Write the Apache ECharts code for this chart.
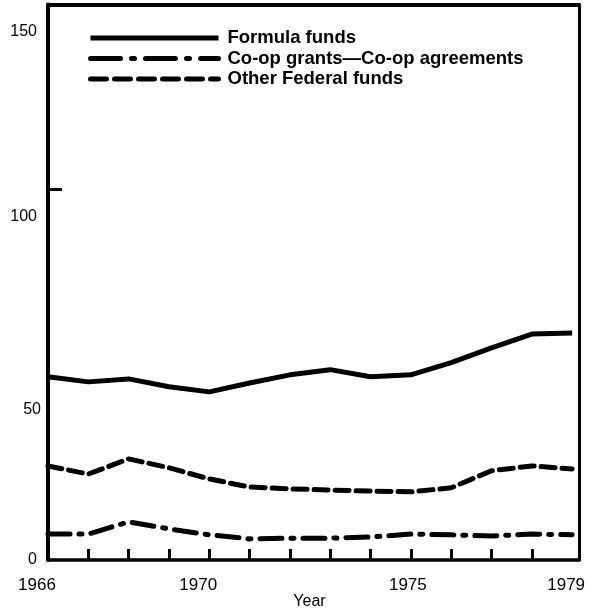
<!DOCTYPE html>
<html>
<head>
<meta charset="utf-8">
<script src="https://cdn.jsdelivr.net/npm/echarts@6/dist/echarts.min.js"></script>
<style>
  html, body { margin: 0; padding: 0; background: #fff; }
  #chart { width: 592px; height: 611px; }
</style>
</head>
<body>
<div id="chart"></div>
<script>
const years = [1966, 1967, 1968, 1969, 1970, 1971, 1972, 1973, 1974, 1975, 1976, 1977, 1978, 1979];
const formulaFunds = [49.5, 48.1, 48.9, 46.8, 45.4, 47.8, 50.0, 51.4, 49.5, 50.0, 53.3, 57.3, 61.0, 61.3];
const coopGrants = [7.0, 7.0, 10.3, 8.4, 6.8, 5.7, 5.9, 5.9, 6.2, 7.0, 6.8, 6.5, 7.0, 6.8];
const otherFederal = [25.4, 23.2, 27.3, 24.9, 21.9, 19.7, 19.2, 18.9, 18.6, 18.4, 19.5, 24.1, 25.4, 24.6];
const xTickLabels = [1966, 1970, 1975, 1979];
const yTickLabels = [0, 50, 100, 150];
const seriesNames = ['Formula funds', 'Co-op grants\u2014Co-op agreements', 'Other Federal funds'];

const FONT = 'Liberation Sans, Arial, Helvetica, sans-serif';
const pairs = arr => years.map((y, i) => [y, arr[i]]);

const chart = echarts.init(document.getElementById('chart'), null, { renderer: 'canvas' });

const dashDotSeries = [22, 9, 3, 9];
const dashedSeries = [14, 7];
const hiddenSymbol = { color: 'rgba(0,0,0,0)', borderWidth: 0, opacity: 0 };

chart.setOption({
  animation: false,
  backgroundColor: '#fff',
  grid: { left: 48, right: 13, top: 4.5, bottom: 51, containLabel: false, outerBoundsMode: 'none' },
  legend: {
    orient: 'vertical',
    left: 83,
    top: 16,
    itemWidth: 128,
    itemHeight: 34,
    itemGap: -13.5,
    itemStyle: hiddenSymbol,
    textStyle: { fontFamily: FONT, fontSize: 18.5, lineHeight: 18, fontWeight: 'bold', color: '#000', padding: [0, 0, 16, 4] },
    data: [
      { name: seriesNames[0], itemStyle: hiddenSymbol, lineStyle: { width: 5, type: 'solid', color: '#000', opacity: 1 } },
      { name: seriesNames[1], itemStyle: hiddenSymbol, lineStyle: { width: 5, type: [30, 11, 3, 11], color: '#000', cap: 'round', opacity: 1 } },
      { name: seriesNames[2], itemStyle: hiddenSymbol, lineStyle: { width: 5, type: [16, 8], color: '#000', cap: 'round', opacity: 1 } }
    ]
  },
  xAxis: [
    {
      type: 'value',
      min: 1966,
      max: 1979.17,
      interval: 1,
      position: 'bottom',
      name: 'Year',
      nameLocation: 'middle',
      nameGap: 34,
      nameMoveOverlap: false,
      nameTextStyle: { fontFamily: FONT, fontSize: 16, color: '#000', padding: [0, 8, 0, 0] },
      axisLine: { show: true, onZero: false, lineStyle: { color: '#000', width: 3.5 } },
      axisTick: {
        show: true, inside: true, length: 11,
        lineStyle: { color: '#000', width: 3 },
        customValues: years.slice(1, years.length - 1)
      },
      splitLine: { show: false },
      axisLabel: {
        show: true,
        margin: 17,
        color: '#000',
        fontFamily: FONT,
        fontSize: 17,
        customValues: xTickLabels,
        formatter: function (v) {
          if (v === 1966 || v === 1970) return '{a|' + v + '}';
          if (v === 1975) return '{b|' + v + '}';
          if (v === 1979) return '{c|' + v + '}';
          return '';
        },
        rich: {
          a: { fontFamily: FONT, fontSize: 17, color: '#000', padding: [0, 22, 0, 0] },
          b: { fontFamily: FONT, fontSize: 17, color: '#000', padding: [0, 6, 0, 0] },
          c: { fontFamily: FONT, fontSize: 17, color: '#000', padding: [0, 12, 0, 0] }
        }
      }
    },
    {
      type: 'value',
      min: 1966,
      max: 1979.17,
      position: 'top',
      axisLine: { show: true, onZero: false, lineStyle: { color: '#000', width: 4 } },
      axisTick: { show: false },
      axisLabel: { show: false },
      splitLine: { show: false }
    }
  ],
  yAxis: [
    {
      type: 'value',
      min: 0,
      max: 150,
      interval: 50,
      position: 'left',
      axisLine: { show: true, onZero: false, lineStyle: { color: '#000', width: 4 } },
      axisTick: { show: true, inside: true, length: 14, lineStyle: { color: '#000', width: 3 }, customValues: [100] },
      splitLine: { show: false },
      axisLabel: {
        show: true,
        margin: 7,
        color: '#000',
        fontFamily: FONT,
        fontSize: 16,
        customValues: yTickLabels,
        formatter: function (v) {
          if (v === 0) return '{z|0}';
          if (v === 50) return '{f|50}';
          return '{h|' + v + '}';
        },
        rich: {
          z: { fontFamily: FONT, fontSize: 16, color: '#000', padding: [0, 4, 0, 0] },
          f: { fontFamily: FONT, fontSize: 16, color: '#000', padding: [70, 0, 0, 0] },
          h: { fontFamily: FONT, fontSize: 16, color: '#000', padding: [54, 4, 0, 0] }
        }
      }
    },
    {
      type: 'value',
      min: 0,
      max: 150,
      position: 'right',
      axisLine: { show: true, onZero: false, lineStyle: { color: '#000', width: 3 } },
      axisTick: { show: false },
      axisLabel: { show: false },
      splitLine: { show: false }
    }
  ],
  series: [
    {
      name: seriesNames[0],
      type: 'line',
      data: pairs(formulaFunds),
      showSymbol: false,
      symbol: 'none',
      lineStyle: { color: '#000', width: 5, type: 'solid', join: 'round' },
      itemStyle: { color: '#000' }
    },
    {
      name: seriesNames[1],
      type: 'line',
      data: pairs(coopGrants),
      showSymbol: false,
      symbol: 'none',
      lineStyle: { color: '#000', width: 5, type: dashDotSeries, cap: 'round', join: 'round' },
      itemStyle: { color: '#000' }
    },
    {
      name: seriesNames[2],
      type: 'line',
      data: pairs(otherFederal),
      showSymbol: false,
      symbol: 'none',
      lineStyle: { color: '#000', width: 5, type: dashedSeries, cap: 'round', join: 'round' },
      itemStyle: { color: '#000' }
    }
  ]
});
</script>
</body>
</html>
